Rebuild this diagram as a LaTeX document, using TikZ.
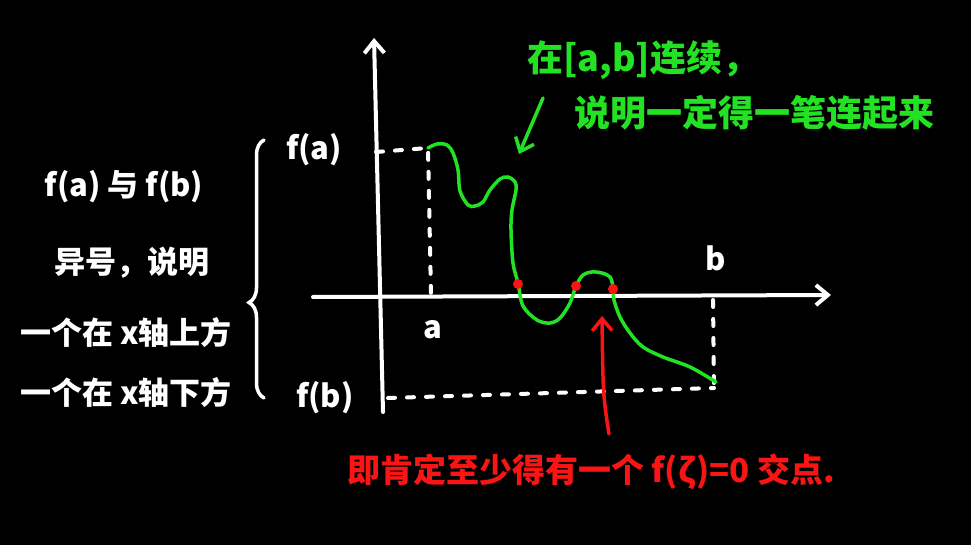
\documentclass[tikz,border=0pt]{standalone}
\usepackage{fontspec}
\newfontfamily\cjk{Noto Sans CJK SC}
\usetikzlibrary{arrows.meta,decorations.pathreplacing}

\definecolor{chalkgreen}{RGB}{35,225,35}
\definecolor{chalkred}{RGB}{250,20,20}

\tikzset{% chalkboard sketch
  axis/.style ={white, line width=4pt, line cap=round,
    -{Straight Barb[length=12pt, width=20pt, line width=4pt]}},
  guide/.style={white, line width=4pt, dash pattern=on 7pt off 12pt, line cap=round},
  curve/.style={chalkgreen, line width=3.5pt, line cap=round},
  zero/.style ={circle, fill=chalkred, minimum size=10pt, inner sep=0pt},
  wlabel/.style={text=white, inner sep=0pt, font=\cjk\bfseries\fontsize{31}{36}\selectfont},
  glabel/.style={text=chalkgreen, inner sep=0pt, anchor=west, font=\cjk\bfseries\fontsize{36}{40}\selectfont},
  rlabel/.style={text=chalkred, inner sep=0pt, anchor=west, font=\cjk\bfseries\fontsize{33}{38}\selectfont},
}

\begin{document}
\begin{tikzpicture}[x=1pt, y=-1pt]
  \fill[black] (0,0) rectangle (971,545);

  % axes
  \coordinate (y0) at (383,412);
  \coordinate (y1) at (374,38);
  \coordinate (x0) at (313,297);
  \coordinate (x1) at (831,295);
  \draw[axis] (y0) -- (y1);
  \draw[axis] (x0) -- (x1);

  % f(a), f(b) guides
  \coordinate (fa) at (428,148);
  \coordinate (fb) at (716,382);
  \coordinate (ay) at (376,152);
  \coordinate (ax) at (431,295);
  \coordinate (by) at (388,398);
  \coordinate (bc) at (714,388);
  \coordinate (bx) at (713,300);
  \draw[guide] (ay) -- (fa) -- (ax);
  \draw[guide] (by) -- (bc);
  \draw[guide] (bx) -- (bc);

  \node[wlabel] (fal) at (314,150) {f(a)};
  \node[wlabel] (fbl) at (325,398) {f(b)};
  \node[wlabel] (al) at (433,330) {a};
  \node[wlabel] (bl) at (716,258) {b};

  % the function
  \draw[curve] plot[smooth, tension=0.55] coordinates {
    (fa) (437,144) (447,145) (453,153) (458,170) (460,191) (468,205)
    (475,206) (483,202) (490,190) (500,179) (508,177) (515,182) (516,190)
    (512,210) (511,230) (513,263) (518,283) (523,306) (537,320) (550,323)
    (560,318) (570,303) (576,286) (583,275) (592,272) (602,273) (610,277)
    (613,287) (614,300) (620,317) (630,333) (643,347) (663,357) (690,367) (fb)};

  \node[zero] (z1) at (518,284) {};
  \node[zero] (z2) at (576,286) {};
  \node[zero] (z3) at (613,289) {};

  % left remark
  \node[wlabel] (l1) at (124,187) {f(a) 与 f(b)};
  \node[wlabel] (l2) at (132,263) {异号，说明};
  \node[wlabel] (l3) at (126,333) {一个在 x轴上方};
  \node[wlabel] (l4) at (126,393) {一个在 x轴下方};
  \coordinate (br0) at (264,398);
  \coordinate (br1) at (264,140);
  \draw[white, line width=3.5pt, line cap=round, decorate,
    decoration={brace, amplitude=15pt, aspect=0.37}] (br0) -- (br1);

  % continuity remark
  \node[glabel] (c1) at (527,60) {在[a,b]连续，};
  \node[glabel] (c2) at (574,113) {说明一定得一笔连起来};
  \coordinate (g0) at (543,98);
  \coordinate (g1) at (519,154);
  \draw[curve, -{Straight Barb[length=12pt, width=20pt, line width=3.5pt]}] (g0) -- (g1);

  % zero remark
  \node[rlabel] (r) at (347,472) {即肯定至少得有一个 f(ζ)=0 交点.};
  \coordinate (r0) at (609,434);
  \coordinate (r1) at (602,316);
  \draw[chalkred, line width=3.5pt, line cap=round,
    -{Straight Barb[length=12pt, width=20pt, line width=3.5pt]}]
    (r0) .. controls (603,395) .. (r1);
\end{tikzpicture}
\end{document}
